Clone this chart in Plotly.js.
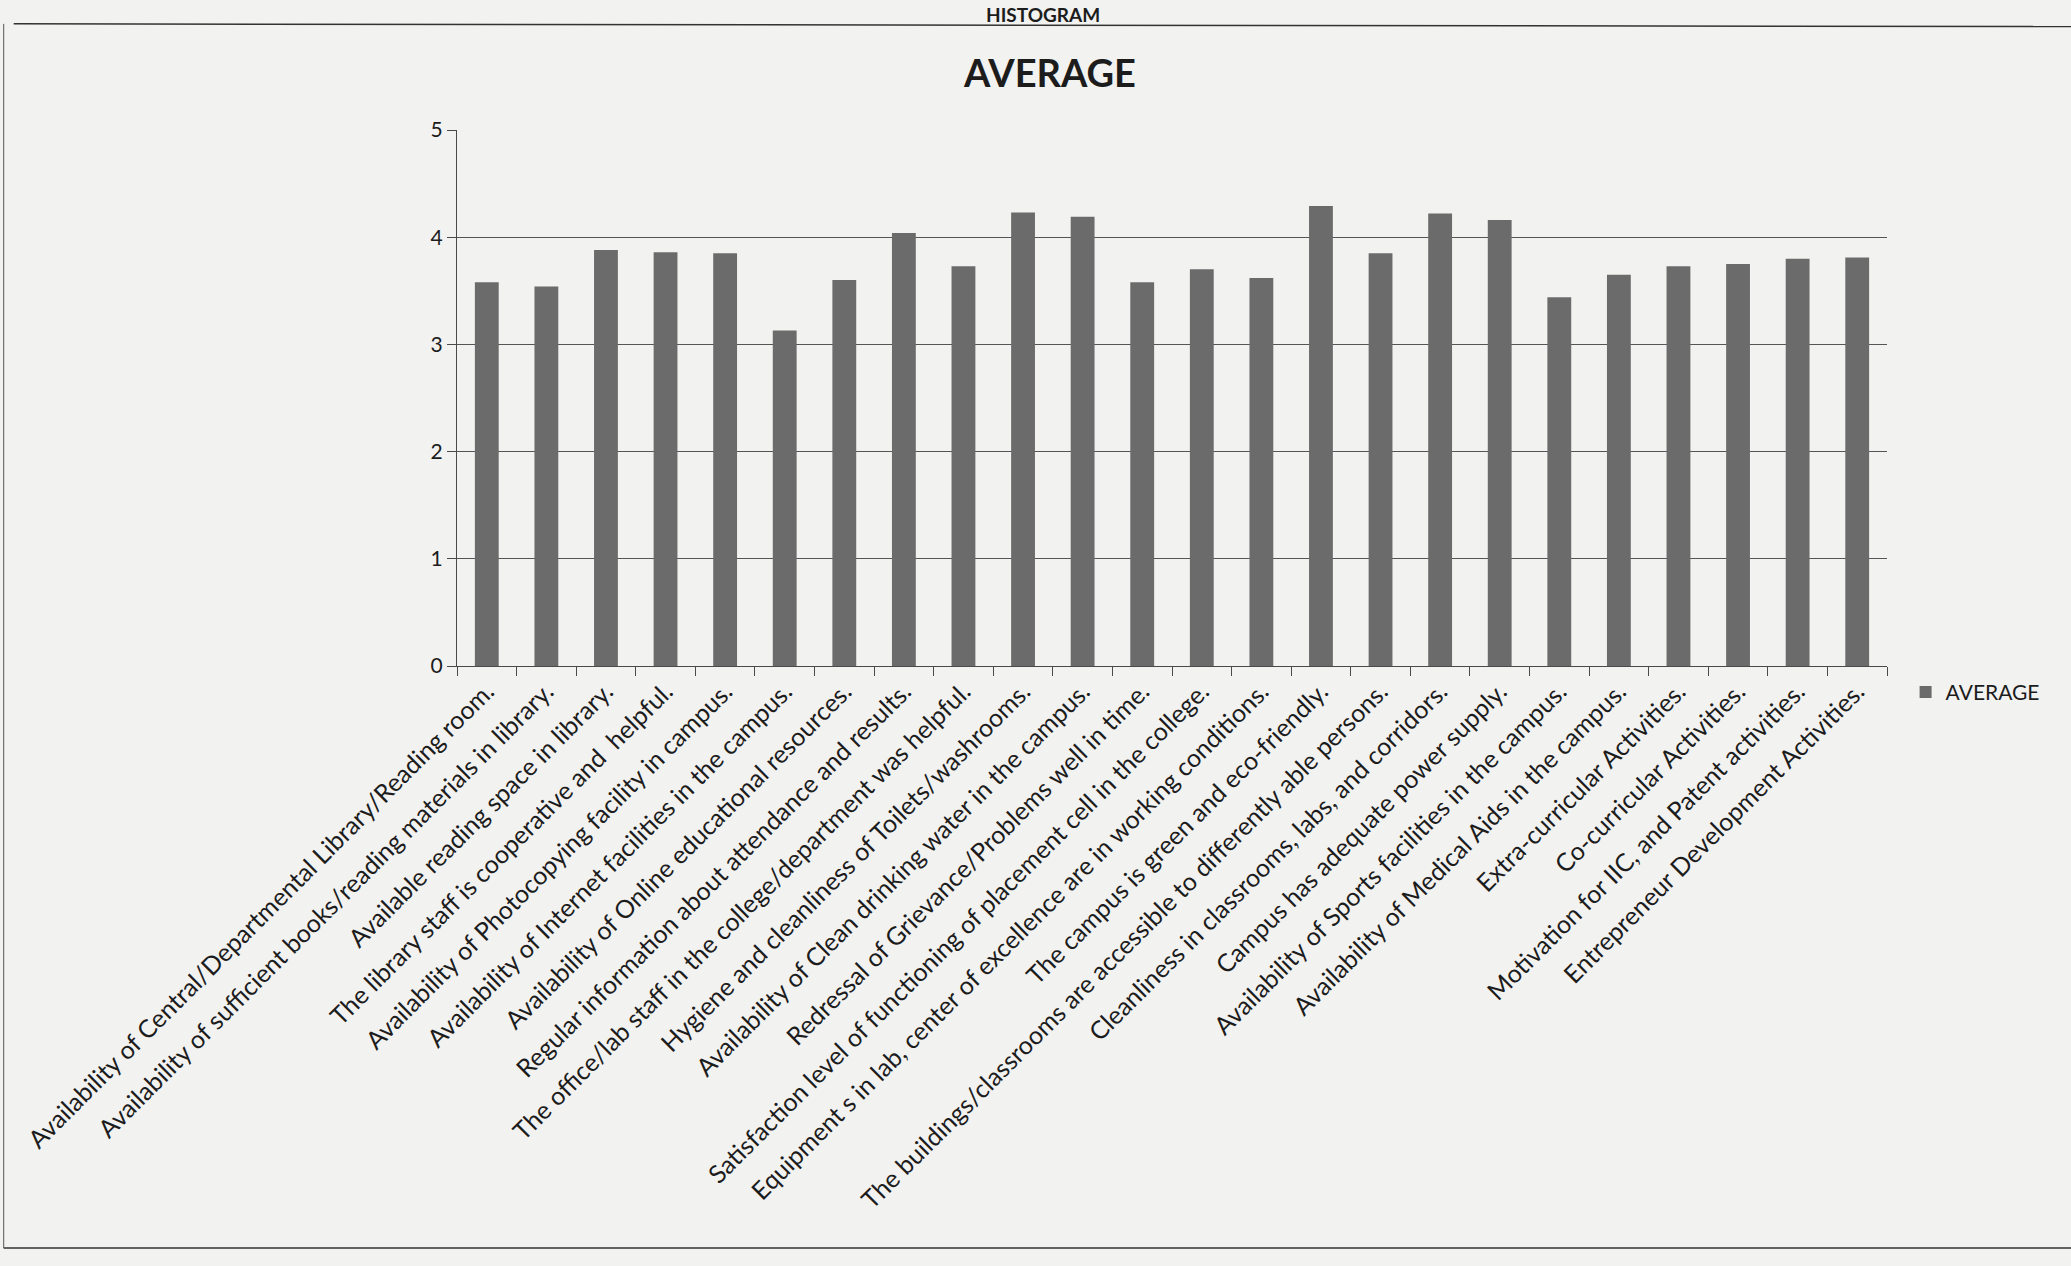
<!DOCTYPE html>
<html>
<head>
<meta charset="utf-8">
<script src="https://cdn.plot.ly/plotly-3.0.1.min.js"></script>
<style>html,body{margin:0;padding:0;background:#f2f2f1;}#chart{width:2071px;height:1266px;}</style>
</head>
<body>
<div id="chart"></div>
<script>
const categories = [
  "Availability of Central/Departmental Library/Reading room.",
  "Availability of sufficient books/reading materials in library.",
  "Available reading space in library.",
  "The library staff is cooperative and  helpful.",
  "Availability of Photocopying facility in campus.",
  "Availability of Internet facilities in the campus.",
  "Availability of Online educational resources.",
  "Regular information about attendance and results.",
  "The office/lab staff in the college/department was helpful.",
  "Hygiene and cleanliness of Toilets/washrooms.",
  "Availability of Clean drinking water in the campus.",
  "Redressal of Grievance/Problems well in time.",
  "Satisfaction level of functioning of placement cell in the college.",
  "Equipment s in lab, center of excellence are in working conditions.",
  "The campus is green and eco-friendly.",
  "The buildings/classrooms are accessible to differently able persons.",
  "Cleanliness in classrooms, labs, and corridors.",
  "Campus has adequate power supply.",
  "Availability of Sports facilities in the campus.",
  "Availability of Medical Aids in the campus.",
  "Extra-curricular Activities.",
  "Co-curricular Activities.",
  "Motivation for IIC, and Patent activities.",
  "Entrepreneur Development Activities."
];
const averageValues = [3.58, 3.54, 3.88, 3.86, 3.85, 3.13, 3.60, 4.04, 3.73, 4.23, 4.19, 3.58,
                       3.70, 3.62, 4.29, 3.85, 4.22, 4.16, 3.44, 3.65, 3.73, 3.75, 3.80, 3.81];
const seriesName = "AVERAGE";
const yTicks = [0, 1, 2, 3, 4, 5];

const ink = "#1c1c1c";
const lineCol = "#4a4a4a";
const barCol = "#6b6b6b";
const bg = "#f2f2f1";

const trace = {
  type: "bar",
  x: categories,
  y: averageValues,
  name: seriesName,
  marker: {color: barCol, line: {width: 0}},
  showlegend: true
};

const layout = {
  width: 2071, height: 1266,
  paper_bgcolor: bg, plot_bgcolor: bg,
  margin: {l: 457, r: 184, t: 130, b: 600},
  font: {family: "Lato, 'Open Sans', sans-serif", color: ink},
  title: {
    text: "<b>AVERAGE</b>",
    x: 0.507, xref: "container", xanchor: "center",
    y: 0.942, yref: "container", yanchor: "middle",
    font: {family: "Lato, 'Open Sans', sans-serif", size: 38, color: ink}
  },
  bargap: 0.6,
  xaxis: {
    type: "category",
    tickangle: -45,
    tickson: "boundaries",
    ticks: "outside", ticklen: 9, tickcolor: lineCol, tickwidth: 1,
    showline: true, linecolor: lineCol, linewidth: 1,
    showgrid: false,
    tickfont: {family: "Lato, 'Open Sans', sans-serif", size: 25, color: ink},
    automargin: false
  },
  yaxis: {
    range: [0, 5],
    tickvals: yTicks,
    ticks: "outside", ticklen: 9, tickcolor: lineCol, tickwidth: 1,
    showline: true, linecolor: lineCol, linewidth: 1,
    showgrid: true, gridcolor: "#555555", gridwidth: 1,
    zeroline: false,
    tickfont: {family: "Lato, 'Open Sans', sans-serif", size: 21, color: ink},
    automargin: false
  },
  legend: {
    x: 1.013, xanchor: "left", xref: "paper",
    y: -0.049, yanchor: "middle", yref: "paper",
    bgcolor: "rgba(0,0,0,0)",
    font: {family: "Lato, 'Open Sans', sans-serif", size: 21, color: ink}
  },
  annotations: [
    {
      text: "<b>HISTOGRAM</b>", xref: "paper", yref: "paper",
      x: 0.41, y: 1.24, xanchor: "center", yanchor: "top",
      showarrow: false,
      font: {family: "Lato, 'Open Sans', sans-serif", size: 19, color: ink}
    }
  ],
  shapes: [
    {type: "line", xref: "paper", yref: "paper", x0: -0.31, x1: 1.13, y0: 1.198, y1: 1.193,
     line: {color: "#333", width: 1.5}},
    {type: "line", xref: "paper", yref: "paper", x0: -0.317, x1: 1.13, y0: -1.086, y1: -1.086,
     line: {color: "#333", width: 1.5}},
    {type: "line", xref: "paper", yref: "paper", x0: -0.317, x1: -0.317, y0: 1.198, y1: -1.086,
     line: {color: "#555", width: 1}}
  ]
};

Plotly.newPlot("chart", [trace], layout, {displayModeBar: false, staticPlot: true});
</script>
</body>
</html>
